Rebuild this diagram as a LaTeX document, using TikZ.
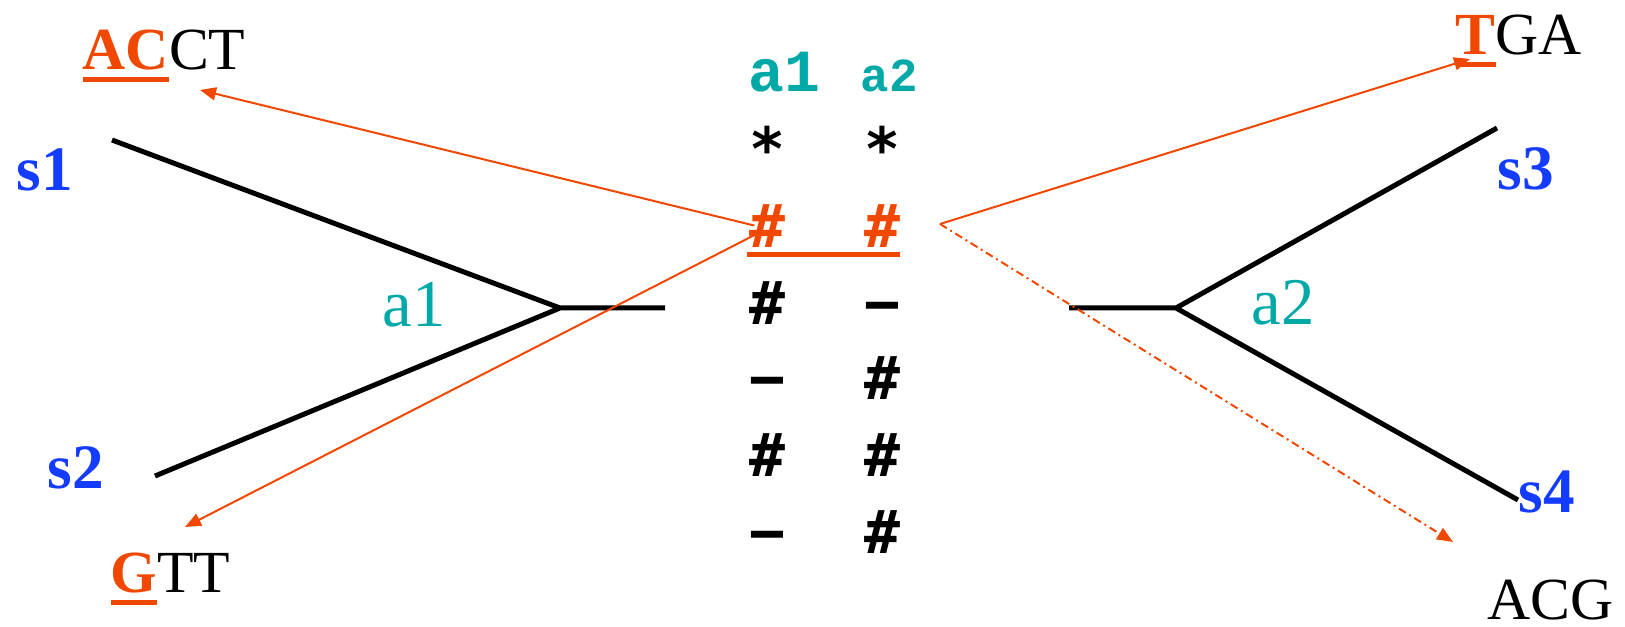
\documentclass[tikz,border=0pt]{standalone}
\usepackage{fontspec}
\setmainfont{Liberation Serif}
\newfontfamily\codefont{Liberation Mono}
\newfontfamily\markfont{DejaVu Sans Mono}
\usetikzlibrary{arrows.meta}
\definecolor{hot}{RGB}{240,72,0}
\definecolor{lab}{RGB}{0,168,168}
\definecolor{leaf}{RGB}{20,60,255}
% bold orange letters with a thick rule under them
\newcommand\hit[1]{{\color{hot}\bfseries\setbox0\hbox{#1}\rlap{\rule[-1.25mm]{\wd0}{0.5mm}}\box0}}
\newcommand\gap{\char"2212}
\begin{document}
\begin{tikzpicture}[x=0.1mm,y=-0.1mm,
  txt/.style={inner sep=0pt,anchor=base west,font=\fontsize{17}{20}\selectfont},
  sname/.style={txt,text=leaf,font=\fontsize{18}{20}\selectfont\bfseries},
  aname/.style={txt,text=lab,font=\fontsize{19}{22}\selectfont},
  col/.style={inner sep=0pt,anchor=base,text=lab,font=\codefont\bfseries},
  mk/.style={inner sep=0pt,anchor=base,font=\fontsize{17}{20}\selectfont\markfont\bfseries},
  br/.style={line width=0.5mm},
  arr/.style={hot,line width=0.2mm,-{Triangle[length=1.6mm,width=1.3mm]}}]
  \useasboundingbox (0,0) rectangle (1625,627);
  % the two subtrees
  \coordinate (s1) at (112,140);
  \coordinate (s2) at (155,476);
  \coordinate (j1) at (560,308);
  \coordinate (r1) at (665,308);
  \coordinate (r2) at (1069,308);
  \coordinate (j2) at (1176,308);
  \coordinate (s3) at (1497,128);
  \coordinate (s4) at (1518,500);
  \draw[br] (s1)--(j1)--(s2) (j1)--(r1);
  \draw[br] (s3)--(j2)--(s4) (r2)--(j2);
  % leaf and edge labels
  \node[sname] (n1) at (16,191) {s1};
  \node[sname] (n2) at (47,489) {s2};
  \node[sname] (n3) at (1497,190) {s3};
  \node[sname] (n4) at (1518,513) {s4};
  \node[aname] (e1) at (382,327) {a1};
  \node[aname] (e2) at (1251,325) {a2};
  % sequences at the leaves
  \node[txt] (acct) at (82,70) {\hit{AC}CT};
  \node[txt] (gtt) at (110,593) {\hit{G}TT};
  \node[txt] (tga) at (1455,55) {\hit{T}GA};
  \node[txt] (acg) at (1487,619) {ACG};
  % the two columns
  \node[col,font=\fontsize{17}{20}\selectfont\codefont\bfseries] (c1) at (784,92) {a1};
  \node[col,font=\fontsize{13.5}{16}\selectfont\codefont\bfseries] (c2) at (889,92) {a2};
  \node[mk] (k1) at (767,171) {*};
  \node[mk] (k2) at (882,171) {*};
  \node[mk,text=hot] (h1) at (767,248) {\#};
  \node[mk,text=hot] (h2) at (882,248) {\#};
  \foreach \y/\l/\r in {325/\#/\gap, 400/\gap/\#, 477/\#/\#, 553/\gap/\#} {
    \node[mk] (l\y) at (767,\y) {\l};
    \node[mk] (r\y) at (882,\y) {\r};
  }
  \draw[hot,line width=0.5mm] (747,255) -- (900,255);
  % where the characters go
  \coordinate (fk) at (940,224);
  \draw[arr] ([shift={(6,-1)}]h1.west) -- ([shift={(118,20)}]acct.base west);
  \draw[arr] ([shift={(11,6)}]h1.west) -- ([shift={(75,-66)}]gtt.base west);
  \draw[arr] (fk) -- ([shift={(15,4)}]tga.base west);
  \draw[arr,dash pattern=on 0.8mm off 0.4mm on 0.2mm off 0.4mm] (fk) -- ([shift={(-34,-77)}]acg.base west);
\end{tikzpicture}
\end{document}
